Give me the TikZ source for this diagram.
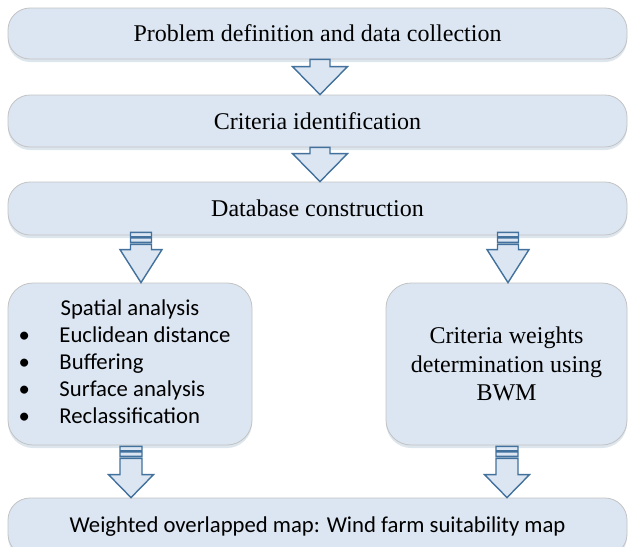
\documentclass[tikz,border=0pt]{standalone}
\usepackage{fontspec}
\setmainfont{Liberation Serif}
\newfontfamily\calibri{Carlito}
\usetikzlibrary{calc,shadows}
\definecolor{boxfill}{HTML}{DCE6F2}
\definecolor{boxline}{HTML}{C3C3C3}
\definecolor{arrline}{HTML}{41719C}
\definecolor{arrfill}{HTML}{DCE6F2}
\tikzset{
  stage/.style={draw=boxline, fill=boxfill, line width=0.8pt, rounded corners=22pt, inner sep=0pt,
    drop shadow={shadow xshift=0pt, shadow yshift=-3pt, opacity=0.18, fill=arrline}},
  sidebox/.style={stage, rounded corners=25pt},
  serifs/.style={font=\fontsize{24}{28.5}\selectfont},
  sanss/.style={font=\calibri\fontsize{22.7}{27}\selectfont},
  blk/.style={draw=arrline, fill=arrfill, line width=1.4pt, line join=miter},
}
% plain block arrow: tail, tip, stem half width, head half width, head length
\newcommand{\plainarrow}[5]{%
  \draw[blk] let \p1=#1, \p2=#2 in
    (\x1-#3,\y1) -- (\x1+#3,\y1) -- (\x1+#3,\y2+#5) -- (\x1+#4,\y2+#5) -- (\x2,\y2)
    -- (\x1-#4,\y2+#5) -- (\x1-#3,\y2+#5) -- cycle;}
% striped block arrow
\newcommand{\stripedarrow}[5]{%
  \draw[blk] let \p1=#1, \p2=#2 in
    (\x1-#3,\y1) rectangle (\x1+#3,\y1-4.5pt)
    (\x1-#3,\y1-5.5pt) rectangle (\x1+#3,\y1-10pt)
    (\x1-#3,\y1-12pt) -- (\x1+#3,\y1-12pt) -- (\x1+#3,\y2+#5) -- (\x1+#4,\y2+#5) -- (\x2,\y2)
    -- (\x1-#4,\y2+#5) -- (\x1-#3,\y2+#5) -- cycle;}
\newcommand{\bul}{\hspace*{-6pt}•}
\begin{document}
\begin{tikzpicture}[x=1pt,y=-1pt]
\useasboundingbox (0,0) rectangle (628,546);
\clip (0,0) rectangle (628,546);

\node[stage, serifs, minimum width=619pt, minimum height=51pt] (s1) at (317.5,33.5)
  {Problem definition and data collection};
\node[stage, serifs, minimum width=619pt, minimum height=52pt] (s2) at (317.5,121)
  {Criteria identification};
\node[stage, serifs, minimum width=619pt, minimum height=53pt] (s3) at (317.5,208.5)
  {Database construction};
\node[sidebox, sanss, minimum width=244pt, minimum height=162pt] (sp) at (130,364)
  {\begin{tabular}{@{}p{35pt}@{}p{176pt}@{}}
   \multicolumn{2}{c}{Spatial analysis}\\
   \bul& Euclidean distance\\
   \bul& Buffering\\
   \bul& Surface analysis\\
   \bul& Reclassification
   \end{tabular}};
\node[sidebox, serifs, align=center, minimum width=241pt, minimum height=162pt] (cw) at (506.5,364)
  {Criteria weights\\determination using\\BWM};
\node[stage, sanss, minimum width=619pt, minimum height=58pt] (wo) at (317.5,527)
  {Weighted overlapped map: Wind farm suitability map};

\plainarrow{($(s1.south)+(2.5,0)$)}{($(s2.north)+(2.5,0)$)}{10pt}{27.5pt}{28pt}
\plainarrow{($(s2.south)+(2.5,0)$)}{($(s3.north)+(2.5,0)$)}{10pt}{27.5pt}{28pt}

\stripedarrow{($(s3.south -| sp.north)+(11,-3)$)}{($(sp.north)+(11,0)$)}{10.5pt}{21pt}{33pt}
\stripedarrow{($(s3.south -| cw.north)+(1.5,-3)$)}{($(cw.north)+(1.5,0)$)}{10.5pt}{21pt}{33pt}

\stripedarrow{($(sp.south)+(1,1)$)}{($(wo.north -| sp.south)+(1,0)$)}{11pt}{22.5pt}{23pt}
\stripedarrow{($(cw.south)+(0.5,1)$)}{($(wo.north -| cw.south)+(0.5,0)$)}{11pt}{22.5pt}{23pt}
\end{tikzpicture}
\end{document}
